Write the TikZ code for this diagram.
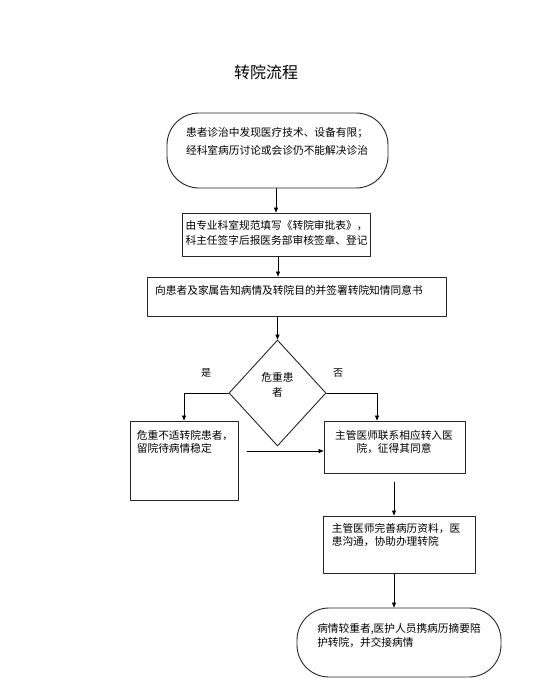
\documentclass[tikz,border=0pt]{standalone}
\usepackage{amsmath,amssymb}
\usepackage{fontspec}
\setmainfont{Noto Sans CJK SC}
\usetikzlibrary{shapes.geometric,arrows.meta}
\tikzset{
    box/.style={draw=black!85,line width=0.9pt,inner sep=0pt},
    txt/.style={inner sep=0pt,align=left},
    arr/.style={-{Triangle[length=5pt,width=4pt]},line width=0.7pt}
}

\begin{document}
\begin{tikzpicture}[line cap=round,line join=round,
    x=1pt,y=-1pt]
\useasboundingbox (0,0) rectangle (537,700);
\node[inner sep=0pt,font=\fontsize{16}{18}\selectfont] (title) at (266,72) {转院流程};

% boxes
\node[box,minimum width=221pt,minimum height=75pt,rounded corners=32pt] (start) at (277.5,150.5) {};
\node[box,minimum width=188pt,minimum height=43pt] (apply) at (276,234.5) {};
\node[box,minimum width=299pt,minimum height=39pt] (inform) at (296.5,296.5) {};
\node[box,diamond,minimum width=97pt,minimum height=106pt] (decide) at (277.5,393) {};
\node[box,minimum width=108pt,minimum height=79pt] (stay) at (184,460.5) {};
\node[box,minimum width=141pt,minimum height=52pt] (contact) at (394.5,447) {};
\node[box,minimum width=152pt,minimum height=57pt] (prepare) at (399,544.5) {};
\node[box,minimum width=204pt,minimum height=69pt,rounded corners=32pt] (transfer) at (399,642.5) {};

% texts
\node[txt,font=\fontsize{10.7}{18}\selectfont] (start-t) at (277,141)
    {患者诊治中发现医疗技术、设备有限；\\经科室病历讨论或会诊仍不能解决诊治};
\node[txt,font=\fontsize{10.7}{15}\selectfont] (apply-t) at (276.5,232.5)
    {由专业科室规范填写《转院审批表》，\\科主任签字后报医务部审核签章、登记};
\node[txt,anchor=west,font=\fontsize{10.7}{15}\selectfont] (inform-t) at (155,290)
    {向患者及家属告知病情及转院目的并签署转院知情同意书};
\node[txt,align=center,font=\fontsize{10.7}{15}\selectfont] (decide-t) at (277.5,384.5)
    {危重患\\者};
\node[txt,font=\fontsize{10.7}{12.3}\selectfont] (stay-t) at (185,442)
    {危重不适转院患者，\\留院待病情稳定};
\node[txt,align=center,font=\fontsize{10.7}{12.3}\selectfont] (contact-t) at (394,442)
    {主管医师联系相应转入医\\院，征得其同意};
\node[txt,font=\fontsize{10.7}{13.3}\selectfont] (prepare-t) at (396,534.7)
    {主管医师完善病历资料，医\\患沟通，协助办理转院};
\node[txt,font=\fontsize{10.7}{14}\selectfont] (transfer-t) at (399,636)
    {病情较重者,医护人员携病历摘要陪\\护转院，并交接病情};
\node[txt,font=\fontsize{10}{12}\selectfont] (yes) at (206,373) {是};
\node[txt,font=\fontsize{10}{12}\selectfont] (no) at (338,373) {否};

% connectors
\coordinate (gap) at (247,451);
\coordinate (gap2) at (394,482);
\draw[arr] (start.south -| apply.north) -- (apply.north);
\draw[arr] ([xshift=2pt]apply.south) -- ([xshift=2pt]apply.south |- inform.north);
\draw[arr] (inform.south -| decide.north) -- (decide.north);
\draw[arr] (decide.west) -| (stay.north);
\draw[arr] (decide.east) -| ([xshift=-17.5pt]contact.north);
\draw[arr] (gap) -- (gap -| contact.west);
\draw[arr] (gap2) -- (gap2 |- prepare.north);
\draw[arr] ([xshift=-5pt]prepare.south) -- ([xshift=-5pt]prepare.south |- transfer.north);
\end{tikzpicture}
\end{document}
